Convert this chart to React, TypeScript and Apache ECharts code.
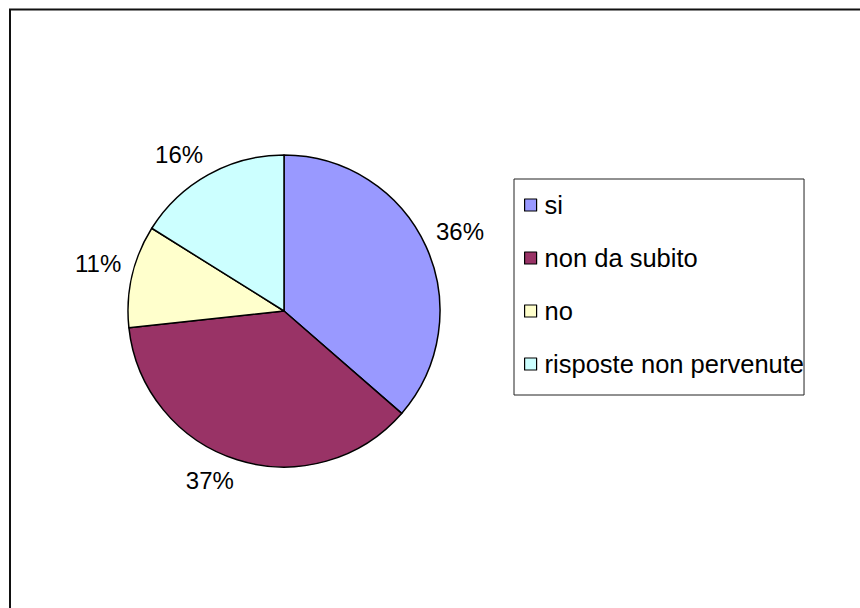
import React, { useEffect, useRef } from "react";
import * as echarts from "echarts";

const categories = ["si", "non da subito", "no", "risposte non pervenute"];
const values = [36.4, 36.9, 10.6, 16.1];
const colors = ["#9999FF", "#993366", "#FFFFCC", "#CCFFFF"];

const CENTER: [number, number] = [284, 311];
const RADIUS = 156;
const LABEL_GAP = 11;

export default function App() {
  const ref = useRef<HTMLDivElement>(null);
  useEffect(() => {
    if (!ref.current) return;
    const chart = echarts.init(ref.current, undefined, { renderer: "svg" });
    const total = values.reduce((a, b) => a + b, 0);
    const mids: number[] = [];
    let acc = 0;
    values.forEach((v) => {
      const start = (acc / total) * 360;
      acc += v;
      const end = (acc / total) * 360;
      mids.push((start + end) / 2);
    });
    chart.setOption({
      animation: false,
      backgroundColor: "#ffffff",
      textStyle: { fontFamily: "'Liberation Sans', Arial, sans-serif" },
      graphic: [
        {
          type: "rect",
          shape: { x: 10, y: 9.5, width: 1000, height: 1000 },
          style: { fill: "none", stroke: "#111", lineWidth: 2 },
          silent: true,
          z: 0,
        },
      ],
      legend: {
        orient: "vertical",
        left: 514,
        top: 179,
        padding: [13, 0, 18, 10],
        borderColor: "#222",
        borderWidth: 1,
        backgroundColor: "#ffffff",
        itemWidth: 12,
        itemHeight: 12,
        itemGap: 27,
        icon: "rect",
        itemStyle: { borderColor: "#000", borderWidth: 1.2 },
        textStyle: {
          fontSize: 25.5,
          lineHeight: 25,
          color: "#000",
          fontFamily: "'Liberation Sans', Arial, sans-serif",
          padding: [0, 0, 0, 3],
        },
        data: categories,
      },
      series: [
        {
          type: "pie",
          center: CENTER,
          radius: RADIUS,
          startAngle: 90,
          clockwise: true,
          percentPrecision: 0,
          data: categories.map((name, i) => ({
            name,
            value: values[i],
            itemStyle: { color: colors[i] },
          })),
          itemStyle: { borderColor: "#000", borderWidth: 1.5 },
          emphasis: { disabled: true },
          label: {
            show: true,
            position: "outside",
            formatter: "{d}%",
            fontSize: 24,
            color: "#000",
            fontFamily: "'Liberation Sans', Arial, sans-serif",
          },
          labelLine: { show: false },
          labelLayout: (params: any) => {
            const a = (mids[params.dataIndex] * Math.PI) / 180;
            const dx = Math.sin(a);
            const dy = -Math.cos(a);
            const d = RADIUS + LABEL_GAP;
            const w = params.labelRect.width;
            const h = params.labelRect.height * 0.85;
            return {
              x: CENTER[0] + d * dx + Math.sign(dx) * (w / 2),
              y: CENTER[1] + d * dy + Math.sign(dy) * (h / 2),
              align: "center",
              verticalAlign: "middle",
            };
          },
        },
      ],
    });
    return () => chart.dispose();
  }, []);
  return (
    <div
      ref={ref}
      style={{ position: "absolute", left: 0, top: 0, width: 860, height: 608 }}
    />
  );
}
